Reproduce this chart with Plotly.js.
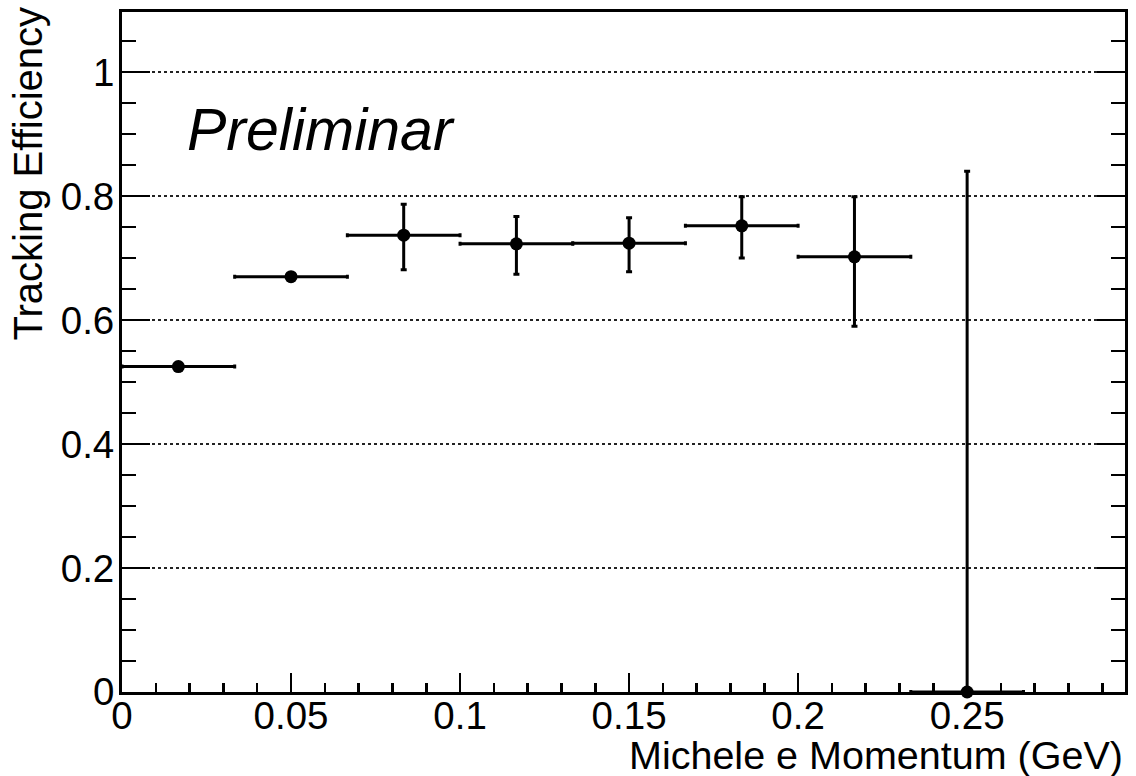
<!DOCTYPE html>
<html>
<head>
<meta charset="utf-8">
<script src="https://cdn.plot.ly/plotly-3.0.1.min.js"></script>
<style>html,body{margin:0;padding:0;background:#fff;}#chart{width:1136px;height:776px;}</style>
</head>
<body>
<div id="chart"></div>
<script>
// Bin centres (GeV), bin half-width and efficiency values
var momentum = [0.01667, 0.05, 0.08333, 0.11667, 0.15, 0.18333, 0.21667, 0.25];
var binHalfWidth = [0.01667, 0.01667, 0.01667, 0.01667, 0.01667, 0.01667, 0.01667, 0.01667];
var efficiency = [0.525, 0.670, 0.737, 0.723, 0.724, 0.752, 0.702, 0.0];
var errUp = [0.0, 0.0, 0.050, 0.044, 0.041, 0.047, 0.097, 0.840];
var errDown = [0.0, 0.0, 0.056, 0.049, 0.046, 0.052, 0.112, 0.0];
var xTickVals = [0, 0.05, 0.1, 0.15, 0.2, 0.25];
var xTickText = ['0', '0.05', '0.1', '0.15', '0.2', '0.25'];
var yTickVals = [0, 0.2, 0.4, 0.6, 0.8, 1];
var yTickText = ['0', '0.2', '0.4', '0.6', '0.8', '1'];

var FONT = '"Liberation Sans", Arial, Helvetica, sans-serif';

var trace = {
  type: 'scatter',
  mode: 'markers',
  x: momentum,
  y: efficiency,
  marker: {color: '#000', size: 13},
  error_x: {type: 'data', array: binHalfWidth, symmetric: true, color: '#000', thickness: 3, width: 2},
  error_y: {type: 'data', array: errUp, arrayminus: errDown, symmetric: false, color: '#000', thickness: 3, width: 3},
  cliponaxis: false,
  showlegend: false
};

var layout = {
  width: 1136,
  height: 776,
  margin: {l: 122, r: 11, t: 12, b: 84, pad: 0},
  paper_bgcolor: '#fff',
  plot_bgcolor: '#fff',
  font: {family: FONT, color: '#000', size: 38},
  xaxis: {
    range: [0, 0.2967],
    tickmode: 'array',
    tickvals: xTickVals,
    ticktext: xTickText,
    ticks: 'inside',
    ticklen: 19,
    tickwidth: 2.5,
    tickcolor: '#000',
    showline: true,
    linecolor: '#000',
    linewidth: 3,
    mirror: true,
    showgrid: false,
    zeroline: false,
    ticklabelstandoff: -12,
    tickfont: {family: FONT, size: 38.5, color: '#000'},
    minor: {dtick: 0.01, tick0: 0, ticks: 'inside', ticklen: 9, tickwidth: 2.5, tickcolor: '#000', showgrid: false}
  },
  yaxis: {
    range: [0, 1.097],
    tickmode: 'array',
    tickvals: yTickVals,
    ticktext: yTickText,
    ticks: 'inside',
    ticklen: 28,
    tickwidth: 2.5,
    tickcolor: '#000',
    showline: true,
    linecolor: '#000',
    linewidth: 3,
    mirror: 'ticks',
    showgrid: true,
    gridcolor: '#222',
    gridwidth: 1.5,
    griddash: 'dot',
    zeroline: false,
    ticklabelstandoff: -3,
    tickfont: {family: FONT, size: 38.5, color: '#000'},
    minor: {dtick: 0.05, tick0: 0, ticks: 'inside', ticklen: 14, tickwidth: 2.5, tickcolor: '#000', showgrid: false}
  },
  annotations: [
    {
      text: 'Michele e Momentum (GeV)',
      xref: 'paper', yref: 'paper',
      x: 1, y: -0.092,
      xanchor: 'right', yanchor: 'middle',
      showarrow: false,
      font: {family: FONT, size: 39.5, color: '#000'}
    },
    {
      text: 'Tracking Efficiency',
      xref: 'paper', yref: 'paper',
      x: -0.0937, y: 1.009,
      xanchor: 'center', yanchor: 'top',
      textangle: -90,
      showarrow: false,
      font: {family: FONT, size: 40, color: '#000'}
    },
    {
      text: '<i>Preliminar</i>',
      xref: 'paper', yref: 'paper',
      x: 0.0628, y: 0.826,
      xanchor: 'left', yanchor: 'middle',
      showarrow: false,
      font: {family: FONT, size: 59, color: '#000'}
    }
  ]
};

Plotly.newPlot('chart', [trace], layout, {displayModeBar: false, staticPlot: true});
</script>
</body>
</html>
